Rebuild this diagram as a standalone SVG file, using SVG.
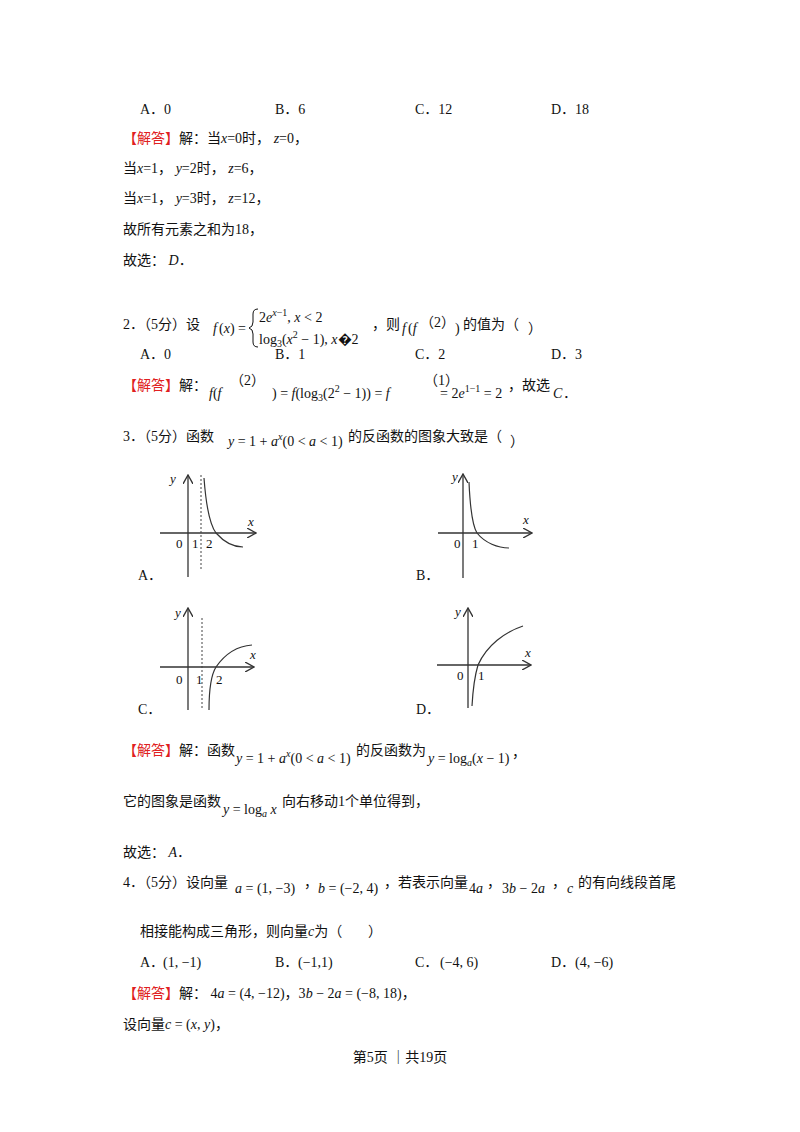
<svg xmlns="http://www.w3.org/2000/svg" width="800" height="1132" viewBox="0 0 800 1132">
<style>
text{font-family:"Liberation Serif","Noto Sans CJK SC",serif;font-size:14px;fill:#111}
.r{fill:#e02020;font-family:"Noto Sans CJK SC",sans-serif}
.i{font-style:italic}
.s{font-size:10px}
.ax{stroke:#333;stroke-width:1.3;fill:none}
.cv{stroke:#333;stroke-width:1.2;fill:none}
.ds{stroke:#444;stroke-width:1;stroke-dasharray:2,2}
.g{font-size:13px}
</style>
<defs><marker id="ar" viewBox="0 0 10 10" refX="9" refY="5" markerWidth="8" markerHeight="8" orient="auto"><path d="M0,0L9,5L0,10" fill="none" stroke="#333" stroke-width="1.3"/></marker></defs>
<rect width="800" height="1132" fill="#fff"/>
<text x="140" y="114">A．0</text><text x="275" y="114">B．6</text><text x="415" y="114">C．12</text><text x="551" y="114">D．18</text>
<text x="123" y="143"><tspan class="r">【解答】</tspan>解：当<tspan class="i">x</tspan>=0时， <tspan class="i">z</tspan>=0，</text>
<text x="123" y="173">当<tspan class="i">x</tspan>=1， <tspan class="i">y</tspan>=2时， <tspan class="i">z</tspan>=6，</text>
<text x="123" y="203">当<tspan class="i">x</tspan>=1， <tspan class="i">y</tspan>=3时， <tspan class="i">z</tspan>=12，</text>
<text x="123" y="234">故所有元素之和为18，</text>
<text x="123" y="265">故选： <tspan class="i">D</tspan>．</text>
<text x="123" y="329">2．（5分）设</text>
<text x="213" y="333" class="i">f</text><text x="219" y="333">(<tspan class="i">x</tspan>) =</text>
<path d="M258,309 Q253,309 253,314 L253,322 Q253,327 249,328 Q253,329 253,334 L253,342 Q253,347 258,347" fill="none" stroke="#111" stroke-width="1"/>
<text x="259" y="322">2<tspan class="i">e</tspan><tspan class="s i" dy="-6">x</tspan><tspan class="s" dy="0">−1</tspan><tspan dy="6">, </tspan><tspan class="i">x</tspan> &lt; 2</text>
<text x="259" y="344">log<tspan class="s" dy="3">3</tspan><tspan dy="-3">(</tspan><tspan class="i">x</tspan><tspan class="s" dy="-6">2</tspan><tspan dy="6"> − 1), </tspan><tspan class="i">x</tspan>�2</text>
<text x="372" y="329">，则</text><text x="402" y="333" class="i">f</text><text x="408" y="333">(<tspan class="i">f</tspan></text>
<text x="420" y="327">（2）</text><text x="455" y="333">)</text><text x="463" y="329">的值为（ </text><text x="528" y="333">）</text>
<text x="140" y="359">A．0</text><text x="275" y="359">B．1</text><text x="415" y="359">C．2</text><text x="551" y="359">D．3</text>
<text x="123" y="390"><tspan class="r">【解答】</tspan>解：</text>
<text x="209" y="398"><tspan class="i">f</tspan>(<tspan class="i">f</tspan></text>
<text x="230" y="385">（2）</text>
<text x="272" y="398">) = <tspan class="i">f</tspan>(log<tspan class="s" dy="3">3</tspan><tspan dy="-3">(2</tspan><tspan class="s" dy="-6">2</tspan><tspan dy="6"> − 1)) = </tspan><tspan class="i">f</tspan></text>
<text x="424" y="385">（1）</text>
<text x="440" y="398"> = 2<tspan class="i">e</tspan><tspan class="s" dy="-6">1−1</tspan><tspan dy="6"> = 2</tspan></text>
<text x="508" y="390">，故选</text><text x="553" y="398" class="i">C</text><text x="563" y="398">．</text>
<text x="123" y="441">3．（5分）函数</text>
<text x="228" y="446"><tspan class="i">y</tspan> = 1 + <tspan class="i">a</tspan><tspan class="s i" dy="-6">x</tspan><tspan dy="6">(0 &lt; </tspan><tspan class="i">a</tspan> &lt; 1)</text>
<text x="348" y="441">的反函数的图象大致是（ </text><text x="510" y="446">）</text>
<g id="graphA">
<line class="ax" x1="188" y1="577" x2="188" y2="475" marker-end="url(#ar)"/>
<line class="ax" x1="160" y1="533" x2="256" y2="533" marker-end="url(#ar)"/>
<line class="ds" x1="201" y1="475" x2="201" y2="571"/>
<path class="cv" d="M204,478 C206,505 210,525 216,533 C224,542 234,547 243,547"/>
<text class="g i" x="170" y="483">y</text><text class="g i" x="248" y="526">x</text>
<text class="g" x="176" y="548">0</text><text class="g" x="192" y="548">1</text><text class="g" x="206" y="548">2</text>
<text x="138" y="580">A．</text>
</g>
<g id="graphB">
<line class="ax" x1="463" y1="578" x2="463" y2="474" marker-end="url(#ar)"/>
<line class="ax" x1="438" y1="533" x2="532" y2="533" marker-end="url(#ar)"/>
<path class="cv" d="M469,482 C470,505 472,525 477,533 C485,543 498,548 509,548"/>
<text class="g i" x="452" y="481">y</text><text class="g i" x="523" y="524">x</text>
<text class="g" x="454" y="548">0</text><text class="g" x="472" y="548">1</text>
<text x="416" y="580">B．</text>
</g>
<g id="graphC">
<line class="ax" x1="188" y1="710" x2="188" y2="608" marker-end="url(#ar)"/>
<line class="ax" x1="160" y1="667" x2="254" y2="667" marker-end="url(#ar)"/>
<line class="ds" x1="202" y1="618" x2="202" y2="710"/>
<path class="cv" d="M209,710 C209,690 211,675 216,667 C225,654 238,646 252,645"/>
<text class="g i" x="175" y="617">y</text><text class="g i" x="250" y="659">x</text>
<text class="g" x="176" y="684">0</text><text class="g" x="196" y="684">1</text><text class="g" x="216" y="684">2</text>
<text x="138" y="714">C．</text>
</g>
<g id="graphD">
<line class="ax" x1="468" y1="708" x2="468" y2="608" marker-end="url(#ar)"/>
<line class="ax" x1="437" y1="665" x2="531" y2="665" marker-end="url(#ar)"/>
<path class="cv" d="M472,706 C473,688 475,675 478,665 C487,645 505,632 523,626"/>
<text class="g i" x="455" y="616">y</text><text class="g i" x="525" y="657">x</text>
<text class="g" x="457" y="680">0</text><text class="g" x="478" y="680">1</text>
<text x="416" y="714">D．</text>
</g>
<text x="123" y="755"><tspan class="r">【解答】</tspan>解：函数</text>
<text x="236" y="763"><tspan class="i">y</tspan> = 1 + <tspan class="i">a</tspan><tspan class="s i" dy="-6">x</tspan><tspan dy="6">(0 &lt; </tspan><tspan class="i">a</tspan> &lt; 1)</text>
<text x="356" y="755">的反函数为</text>
<text x="428" y="763"><tspan class="i">y</tspan> = log<tspan class="s i" dy="3">a</tspan><tspan dy="-3">(</tspan><tspan class="i">x</tspan> − 1)</text><text x="512" y="757">，</text>
<text x="123" y="806">它的图象是函数</text>
<text x="223" y="814"><tspan class="i">y</tspan> = log<tspan class="s i" dy="3">a</tspan><tspan dy="-3" class="i"> x</tspan></text>
<text x="282" y="806">向右移动1个单位得到，</text>
<text x="123" y="857">故选： <tspan class="i">A</tspan>．</text>
<text x="123" y="887">4．（5分）设向量</text>
<text x="235" y="893"><tspan class="i">a</tspan> = (1, −3)</text><text x="304" y="887">，</text>
<text x="318" y="893"><tspan class="i">b</tspan> = (−2, 4)</text><text x="384" y="887">，若表示向量</text>
<text x="469" y="893">4<tspan class="i">a</tspan></text><text x="487" y="887">，</text>
<text x="502" y="893">3<tspan class="i">b</tspan> − 2<tspan class="i">a</tspan></text><text x="552" y="887">，</text>
<text x="567" y="893" class="i">c</text><text x="578" y="887">的有向线段首尾</text>
<text x="140" y="936">相接能构成三角形，则向量<tspan class="i">c</tspan>为（ </text><text x="368" y="936">）</text>
<text x="140" y="967">A．</text><text x="163" y="967">(1, −1)</text>
<text x="275" y="967">B．</text><text x="298" y="967">(−1,1)</text>
<text x="415" y="967">C．</text><text x="440" y="967">(−4, 6)</text>
<text x="551" y="967">D．</text><text x="575" y="967">(4, −6)</text>
<text x="123" y="998"><tspan class="r">【解答】</tspan>解： 4<tspan class="i">a</tspan> = (4, −12)，3<tspan class="i">b</tspan> − 2<tspan class="i">a</tspan> = (−8, 18)，</text>
<text x="123" y="1029">设向量<tspan class="i">c</tspan> = (<tspan class="i">x</tspan>, <tspan class="i">y</tspan>)，</text>
<text x="400" y="1062" text-anchor="middle">第5页 ｜共19页</text>
</svg>
